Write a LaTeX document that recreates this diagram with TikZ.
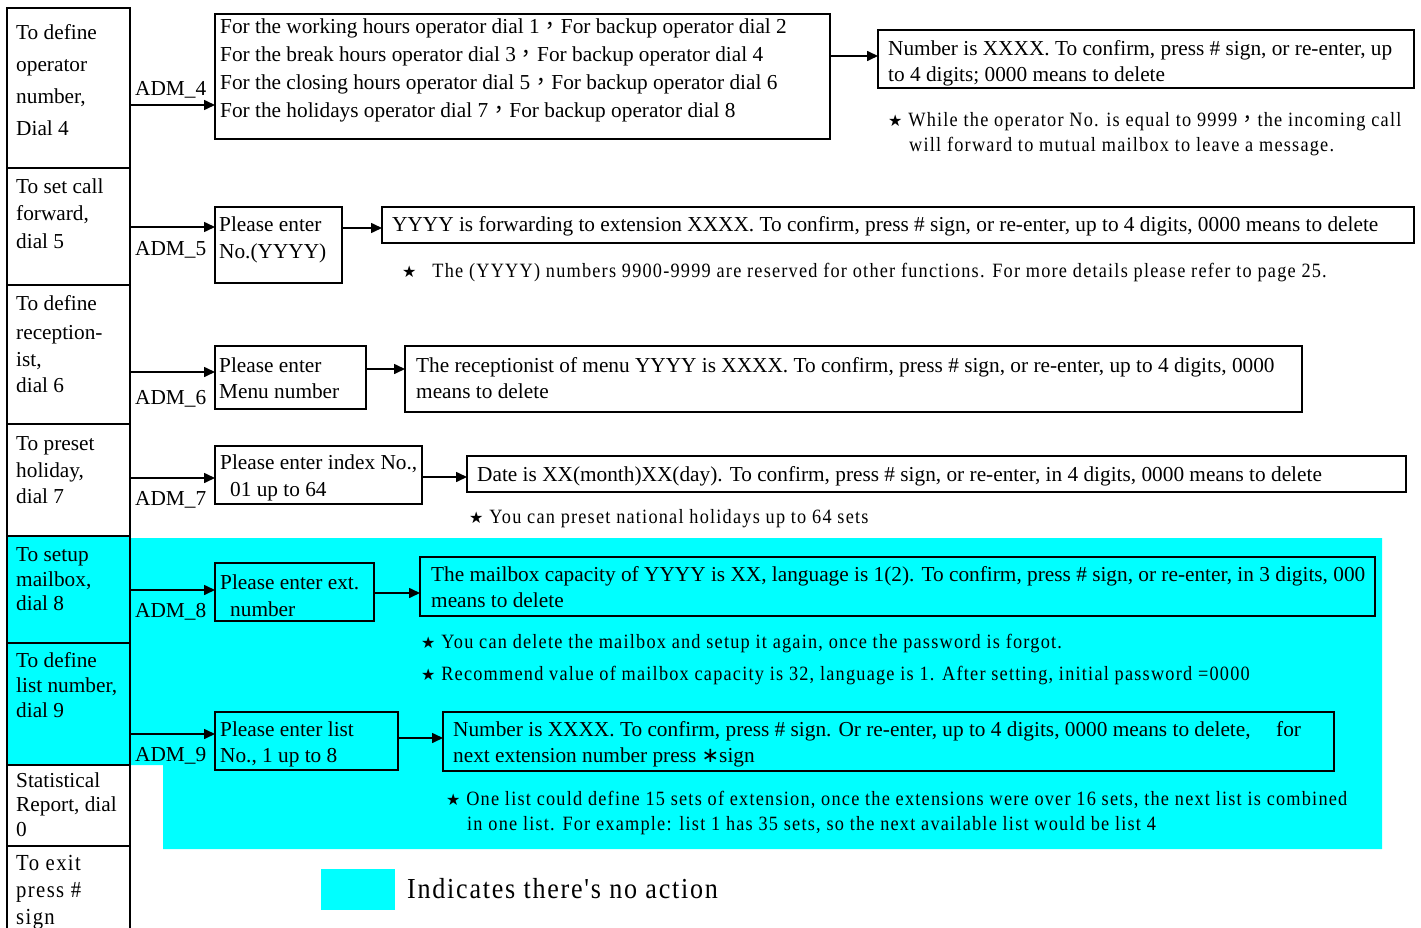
\documentclass[tikz,border=0pt]{standalone}
\usepackage{fontspec}
\setmainfont{Liberation Serif}
\newfontfamily\notefont[LetterSpace=6,FakeStretch=0.9]{Liberation Serif}
\newfontfamily\cjkfont{Noto Sans CJK TC}
\newfontfamily\symfont{DejaVu Sans}
\usetikzlibrary{arrows.meta}
\definecolor{aqua}{RGB}{0,255,255}
\newcommand\fwc{{\cjkfont ，}}
\newcommand\str{{\symfont\fontsize{16}{16}\selectfont ★}}
\newcommand\mkbox[6][]{\node[box,#1,anchor=north west,minimum width=#5pt-#3pt,minimum height=#6pt-#4pt] (#2) at (#3,#4) {};}
\newcommand\putline[5][txt]{\node[#1] (#2) at (#3,#4) {#5};}
\begin{document}
\begin{tikzpicture}[x=1pt,y=-1pt,
  box/.style={draw,line width=1.8pt,inner sep=0pt,outer sep=0pt},
  lbox/.style={draw,line width=2.2pt,inner sep=0pt,outer sep=0pt},
  txt/.style={anchor=west,inner sep=0pt,text height=14pt,text depth=4pt,yshift=-3pt,font=\fontsize{21.3}{25}\selectfont},
  note/.style={anchor=west,inner sep=0pt,text height=14pt,text depth=4pt,yshift=-2pt,font=\notefont\fontsize{20.3}{24}\selectfont},
  exitt/.style={anchor=west,inner sep=0pt,text height=14pt,text depth=4pt,yshift=-3pt,font=\notefont\fontsize{23}{27}\selectfont},
  legt/.style={anchor=west,inner sep=0pt,text height=17pt,text depth=5pt,yshift=-2pt,font=\notefont\fontsize{29}{34}\selectfont},
  arr/.style={line width=1.6pt,-{Triangle[length=11pt,width=10pt]}}]
\useasboundingbox (0,0) rectangle (1421,928);
% cyan background (no action area)
\fill[aqua] (130,538) -- (1382,538) -- (1382,849) -- (163,849) -- (163,765) -- (130,765) -- cycle;
% left column
\mkbox[lbox]{L4}{7}{8}{130}{168}
\mkbox[lbox]{L5}{7}{168}{130}{285}
\mkbox[lbox]{L6}{7}{285}{130}{424}
\mkbox[lbox]{L7}{7}{424}{130}{536}
\mkbox[lbox,fill=aqua]{L8}{7}{536}{130}{643}
\mkbox[lbox,fill=aqua]{L9}{7}{643}{130}{765}
\mkbox[lbox]{L0}{7}{765}{130}{846}
\mkbox[lbox]{LX}{7}{846}{130}{932}
\putline{l4a}{16}{32}{To define}
\putline{l4b}{16}{64}{operator}
\putline{l4c}{16}{96}{number,}
\putline{l4d}{16}{128}{Dial 4}
\putline{l5a}{16}{186}{To set call}
\putline{l5b}{16}{213}{forward,}
\putline{l5c}{16}{240}{dial 5}
\putline{l6a}{16}{302}{To define}
\putline{l6b}{16}{331}{reception-}
\putline{l6c}{16}{358}{ist,}
\putline{l6d}{16}{384}{dial 6}
\putline{l7a}{16}{442}{To preset}
\putline{l7b}{16}{469}{holiday,}
\putline{l7c}{16}{495}{dial 7}
\putline{l8a}{16}{553}{To setup}
\putline{l8b}{16}{578}{mailbox,}
\putline{l8c}{16}{602}{dial 8}
\putline{l9a}{16}{659}{To define}
\putline{l9b}{16}{684}{list number,}
\putline{l9c}{16}{709}{dial 9}
\putline{l0a}{16}{779}{Statistical}
\putline{l0b}{16}{803}{Report, dial}
\putline{l0c}{16}{828}{0}
\putline[exitt]{lxa}{16}{862}{To exit}
\putline[exitt]{lxb}{16}{889}{press \#}
\putline[exitt]{lxc}{16}{916}{sign}
% second column boxes
\mkbox{B4}{215}{14}{830}{139}
\mkbox{B5}{215}{207}{342}{283}
\mkbox{B6}{215}{346}{366}{409}
\mkbox{B7}{215}{446}{422}{504}
\mkbox{B8}{215}{563}{374}{621}
\mkbox{B9}{215}{712}{398}{770}
\putline{b4a}{220}{26}{For the working hours operator dial 1\fwc For backup operator dial 2}
\putline{b4b}{220}{54}{For the break hours operator dial 3\fwc For backup operator dial 4}
\putline{b4c}{220}{82}{For the closing hours operator dial 5\fwc For backup operator dial 6}
\putline{b4d}{220}{110}{For the holidays operator dial 7\fwc For backup operator dial 8}
\putline{b5a}{219}{224}{Please enter}
\putline{b5b}{219}{250}{No.(YYYY)}
\putline{b6a}{219}{364}{Please enter}
\putline{b6b}{219}{390}{Menu number}
\putline{b7a}{220}{461}{Please enter index No.,}
\putline{b7b}{230}{488}{01 up to 64}
\putline{b8a}{220}{581}{Please enter ext.}
\putline{b8b}{230}{608}{number}
\putline{b9a}{220}{728}{Please enter list}
\putline{b9b}{220}{754}{No., 1 up to 8}
% third column boxes
\mkbox{C4}{878}{30}{1414}{88}
\mkbox{C5}{382}{207}{1414}{243}
\mkbox{C6}{405}{346}{1302}{412}
\mkbox{C7}{467}{456}{1406}{492}
\mkbox{C8}{420}{557}{1375}{616}
\mkbox{C9}{443}{712}{1334}{771}
\putline{c4a}{888}{48}{Number is XXXX. To confirm, press \# sign, or re-enter, up}
\putline{c4b}{888}{74}{to 4 digits; 0000 means to delete}
\putline{c5a}{392}{224}{YYYY is forwarding to extension XXXX. To confirm, press \# sign, or re-enter, up to 4 digits, 0000 means to delete}
\putline{c6a}{416}{364}{The receptionist of menu YYYY is XXXX. To confirm, press \# sign, or re-enter, up to 4 digits, 0000}
\putline{c6b}{416}{390}{means to delete}
\putline{c7a}{477}{473}{Date is XX(month)XX(day). To confirm, press \# sign, or re-enter, in 4 digits, 0000 means to delete}
\putline{c8a}{431}{573}{The mailbox capacity of YYYY is XX, language is 1(2). To confirm, press \# sign, or re-enter, in 3 digits, 000}
\putline{c8b}{431}{599}{means to delete}
\putline{c9a}{453}{728}{Number is XXXX. To confirm, press \# sign. Or re-enter, up to 4 digits, 0000 means to delete,\hspace{1.2em}for}
\putline{c9b}{453}{754}{next extension number press {\symfont\fontsize{21}{25}\selectfont ∗}sign}
% notes
\putline[note]{n4a}{888}{120}{\str\ While the operator No. is equal to 9999\fwc the incoming call}
\putline[note]{n4b}{909}{145}{will forward to mutual mailbox to leave a message.}
\putline[note]{n5a}{402}{270}{\str\hspace{0.5em} The (YYYY) numbers 9900-9999 are reserved for other functions. For more details please refer to page 25.}
\putline[note]{n7a}{469}{516}{\str\ You can preset national holidays up to 64 sets}
\putline[note]{n8a}{421}{641}{\str\ You can delete the mailbox and setup it again, once the password is forgot.}
\putline[note]{n8b}{421}{673}{\str\ Recommend value of mailbox capacity is 32, language is 1. After setting, initial password =0000}
\putline[note]{n9a}{446}{798}{\str\ One list could define 15 sets of extension, once the extensions were over 16 sets, the next list is combined}
\putline[note]{n9b}{467}{823}{in one list. For example: list 1 has 35 sets, so the next available list would be list 4}
% ADM arrows
\coordinate (y4) at (0,105);
\coordinate (y5) at (0,227);
\coordinate (y6) at (0,372);
\coordinate (y7) at (0,478);
\coordinate (y8) at (0,590);
\coordinate (y9) at (0,734);
\draw[arr] (L4.east |- y4) -- (B4.west |- y4);
\draw[arr] (L5.east |- y5) -- (B5.west |- y5);
\draw[arr] (L6.east |- y6) -- (B6.west |- y6);
\draw[arr] (L7.east |- y7) -- (B7.west |- y7);
\draw[arr] (L8.east |- y8) -- (B8.west |- y8);
\draw[arr] (L9.east |- y9) -- (B9.west |- y9);
\putline{a4}{135}{88}{ADM\_4}
\putline{a5}{135}{247}{ADM\_5}
\putline{a6}{135}{396}{ADM\_6}
\putline{a7}{135}{497}{ADM\_7}
\putline{a8}{135}{609}{ADM\_8}
\putline{a9}{135}{753}{ADM\_9}
% second to third arrows
\coordinate (z4) at (0,56);
\coordinate (z5) at (0,228);
\coordinate (z6) at (0,369);
\coordinate (z7) at (0,477);
\coordinate (z8) at (0,593);
\coordinate (z9) at (0,738);
\draw[arr] (B4.east |- z4) -- (C4.west |- z4);
\draw[arr] (B5.east |- z5) -- (C5.west |- z5);
\draw[arr] (B6.east |- z6) -- (C6.west |- z6);
\draw[arr] (B7.east |- z7) -- (C7.west |- z7);
\draw[arr] (B8.east |- z8) -- (C8.west |- z8);
\draw[arr] (B9.east |- z9) -- (C9.west |- z9);
% legend
\node[fill=aqua,inner sep=0pt,outer sep=0pt,anchor=north west,minimum width=74pt,minimum height=41pt] (leg) at (321,869) {};
\putline[legt]{legtext}{407}{890}{Indicates there's no action}
\end{tikzpicture}
\end{document}
